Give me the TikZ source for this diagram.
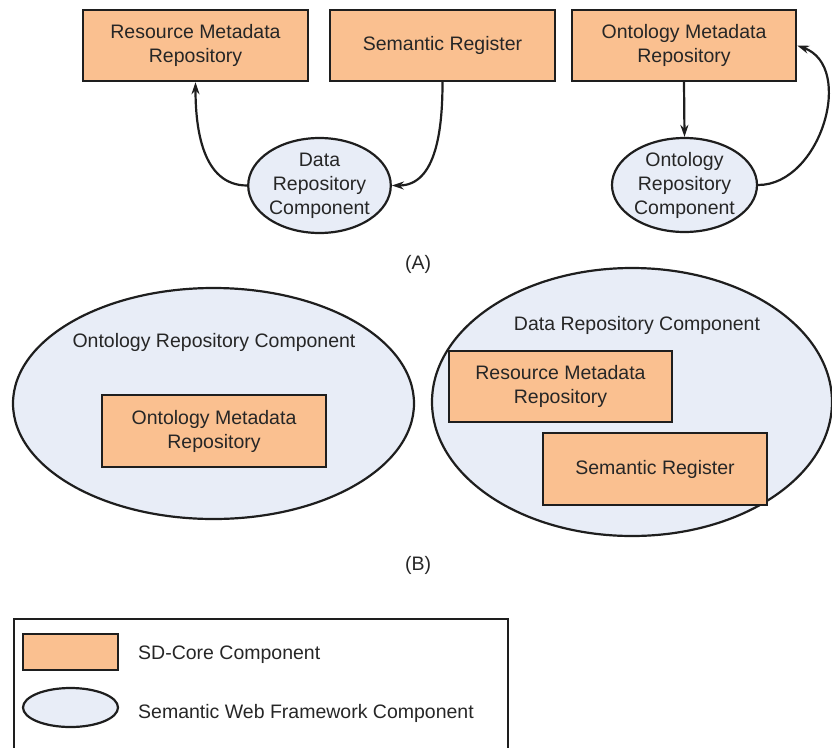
\documentclass[tikz,border=0pt]{standalone}
\usepackage{fontspec}
\setmainfont{Liberation Sans}
\usetikzlibrary{arrows.meta,shapes.geometric}
\definecolor{coreorange}{RGB}{250,192,144}
\definecolor{swfblue}{RGB}{232,237,247}
\definecolor{edgegray}{RGB}{30,30,30}

\begin{document}
\begin{tikzpicture}[x=1pt, y=1pt, >={Stealth[length=12pt,width=8pt]},
  txt/.style={font=\fontsize{19.5}{24}\selectfont, align=center, inner sep=0pt, text=black!85},
  corebox/.style={txt, rectangle, draw=edgegray, line width=2.4pt, fill=coreorange},
  swfell/.style={txt, ellipse, draw=edgegray, line width=2.2pt, fill=swfblue},
  link/.style={->, line width=2.2pt, edgegray}]
  \useasboundingbox (0,0) rectangle (832,-747);

  % (A) usage
  \node[corebox, minimum width=225, minimum height=71] (rmrA) at (195.5,-45.5) {Resource Metadata\\Repository};
  \node[corebox, minimum width=225, minimum height=71] (srA) at (442.5,-45.5) {Semantic Register};
  \node[corebox, minimum width=224, minimum height=71] (omrA) at (684,-45.5) {Ontology Metadata\\Repository};
  \node[swfell, minimum width=141, minimum height=95] (drcA) at (319.5,-185.5) {Data\\Repository\\Component};
  \node[swfell, minimum width=145, minimum height=94] (orcA) at (684.5,-185) {Ontology\\Repository\\Component};
  \draw[link] (drcA.west) to[out=180, in=-90] (rmrA.south);
  \draw[link] (srA.south) to[out=-90, in=0] (drcA.east);
  \draw[link] (omrA.south) -- (orcA.north);
  \draw[link] (orcA.east) to[out=0, in=-20, looseness=1.1] (omrA.east);
  \node[txt] (capA) at (418,-264) {(A)};

  % (B) containment
  \node[swfell, minimum width=401, minimum height=231] (orcB) at (213.5,-403.5) {};
  \node[txt] (orcBlabel) at (214,-342) {Ontology Repository Component};
  \node[corebox, minimum width=224, minimum height=72] (omrB) at (214,-431) {Ontology Metadata\\Repository};
  \node[swfell, minimum width=400, minimum height=268] (drcB) at (632,-402) {};
  \node[txt] (drcBlabel) at (637,-325) {Data Repository Component};
  \node[corebox, minimum width=223, minimum height=71] (rmrB) at (560.5,-386.5) {Resource Metadata\\Repository};
  \node[corebox, minimum width=224, minimum height=72] (srB) at (655,-469) {Semantic Register};
  \node[txt] (capB) at (418,-565) {(B)};

  % legend
  \draw[edgegray, line width=1.8pt] (14,-619) rectangle (508,-790);
  \node[corebox, minimum width=95, minimum height=36] (keycore) at (70.5,-652) {};
  \node[txt, anchor=west] (keycorelabel) at (138,-655) {SD-Core Component};
  \node[swfell, minimum width=95, minimum height=39] (keyswf) at (70.5,-707.5) {};
  \node[txt, anchor=west] (keyswflabel) at (138,-713) {Semantic Web Framework Component};
\end{tikzpicture}
\end{document}
